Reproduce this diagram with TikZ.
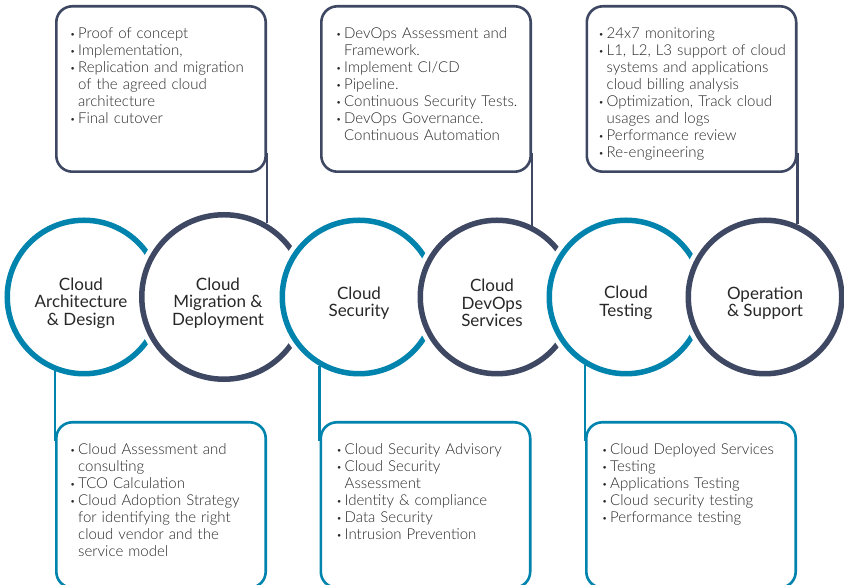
\documentclass[tikz,border=0pt]{standalone}
\usepackage{fontspec}
\setmainfont{Lato}
\newfontfamily\lightfont{Lato Light}
\usetikzlibrary{positioning}

\definecolor{cloudblue}{RGB}{0,131,172}
\definecolor{slate}{RGB}{62,72,98}
\definecolor{ink}{RGB}{40,40,40}

% one bullet item, wrapped lines (\newline) hang under the text
\newcommand\itm[1]{\par\hangindent=8pt\hangafter=1\noindent
  \makebox[8pt][l]{\raisebox{1pt}{\fontsize{9}{9}\selectfont\textbullet}}#1\par}

\begin{document}
\begin{tikzpicture}[x=1pt,y=1pt,
  ring/.style={circle,draw=#1,line width=5.5pt,fill=white,minimum size=153.5pt,inner sep=0pt,on grid,
    preaction={draw=white,line width=14.5pt}},
  ringtext/.style={align=center,text=ink,inner sep=0pt,yshift=-6pt,font=\fontsize{17}{17.5}\selectfont},
  card/.style={draw=#1,line width=2.6pt,rounded corners=16pt,minimum width=209.4pt,minimum height=165.4pt,inner sep=0pt},
  list/.style={inner sep=0pt,text width=205pt,align=left,text=ink,font=\lightfont\fontsize{15}{17}\selectfont},
  link/.style={draw=#1,line width=2.4pt}]
  \useasboundingbox (0,0) rectangle (844,585);

  % the six rings, each one laid over the one before
  \node[ring=cloudblue] (c1) at (84,288) {};
  \node[ring=slate,right=140pt of c1,minimum size=164.5pt] (c2) {};
  \node[ring=cloudblue,right=135pt of c2] (c3) {};
  \node[ring=slate,right=138pt of c3] (c4) {};
  \node[ring=cloudblue,right=129pt of c4] (c5) {};
  \node[ring=slate,right=139pt of c5] (c6) {};

  \node[ringtext,xshift=-3pt] (c1t) at (c1) {Cloud\\Architecture\\\& Design};
  \node[ringtext,xshift=-6pt] (c2t) at (c2) {Cloud\\Migration \&\\Deployment};
  \node[ringtext] (c3t) at (c3) {Cloud\\Security};
  \node[ringtext,xshift=-5pt] (c4t) at (c4) {Cloud\\DevOps\\Services};
  \node[ringtext] (c5t) at (c5) {Cloud\\Testing};
  \node[ringtext] (c6t) at (c6) {Operation\\\& Support};

  % cards above
  \node[card=slate] (t1) at (161,496) {};
  \node[card=slate] (t2) at (426,496) {};
  \node[card=slate] (t3) at (691.5,496) {};
  % cards below
  \node[card=cloudblue] (b1) at (161,80) {};
  \node[card=cloudblue] (b2) at (425.5,80) {};
  \node[card=cloudblue] (b3) at (691,80) {};

  \node[list,below right=16pt and 15pt of t1.north west] (t1l) {%
    \itm{Proof of concept}
    \itm{Implementation,}
    \itm{Replication and migration\newline of the agreed cloud\newline architecture}
    \itm{Final cutover}};
  \node[list,below right=16pt and 16pt of t2.north west] (t2l) {%
    \itm{DevOps Assessment and\newline Framework.}
    \itm{Implement CI/CD}
    \itm{Pipeline.}
    \itm{Continuous Security Tests.}
    \itm{DevOps Governance.\newline Continuous Automation}};
  \node[list,below right=16pt and 13pt of t3.north west] (t3l) {%
    \itm{24x7 monitoring}
    \itm{L1, L2, L3 support of cloud\newline systems and applications\newline cloud billing analysis}
    \itm{Optimization, Track cloud\newline usages and logs}
    \itm{Performance review}
    \itm{Re-engineering}};

  \node[list,below right=16pt and 15pt of b1.north west] (b1l) {%
    \itm{Cloud Assessment and\newline consulting}
    \itm{TCO Calculation}
    \itm{Cloud Adoption Strategy\newline for identifying the right\newline cloud vendor and the\newline service model}};
  \node[list,below right=16pt and 17pt of b2.north west] (b2l) {%
    \itm{Cloud Security Advisory}
    \itm{Cloud Security\newline Assessment}
    \itm{Identity \& compliance}
    \itm{Data Security}
    \itm{Intrusion Prevention}};
  \node[list,below right=16pt and 17pt of b3.north west] (b3l) {%
    \itm{Cloud Deployed Services}
    \itm{Testing}
    \itm{Applications Testing}
    \itm{Cloud security testing}
    \itm{Performance testing}};

  % stems from the cards to the rings
  \draw[link=slate] ([yshift=20pt]t1.south east) -- (t1.south east |- c2.60);
  \draw[link=slate] ([yshift=20pt]t2.south east) -- (t2.south east |- c4.64);
  \draw[link=slate] ([yshift=20pt]t3.south east) -- (t3.south east |- c6.66);
  \draw[link=cloudblue] (b1.north west |- c1.249) -- ([yshift=-20pt]b1.north west);
  \draw[link=cloudblue] (b2.north west |- c3.240) -- ([yshift=-20pt]b2.north west);
  \draw[link=cloudblue] (b3.north west |- c5.239) -- ([yshift=-20pt]b3.north west);
\end{tikzpicture}
\end{document}
